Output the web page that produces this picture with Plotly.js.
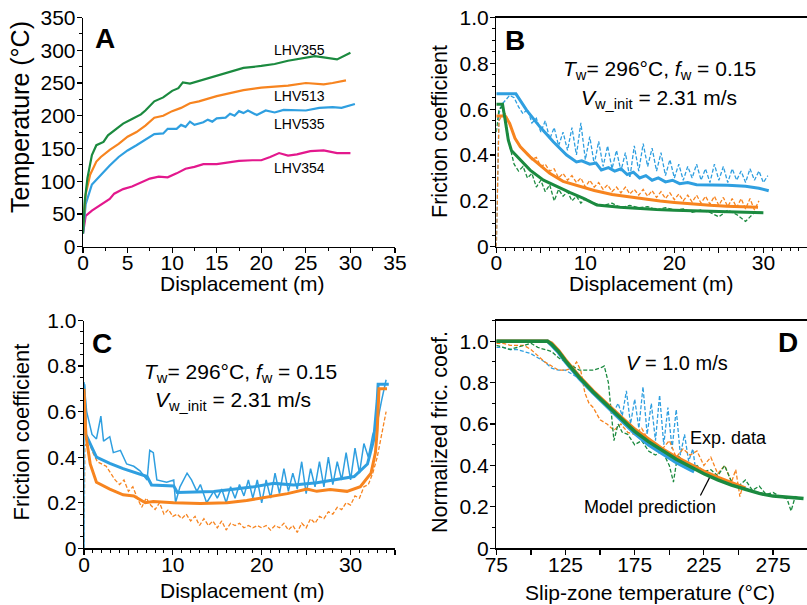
<!DOCTYPE html>
<html><head><meta charset="utf-8">
<script src="https://cdn.plot.ly/plotly-3.0.1.min.js"></script>
<style>html,body{margin:0;padding:0;background:#fff}#chart{width:807px;height:605px}</style>
</head><body><div id="chart"></div>
<script>
// ---------- Panel A: temperature vs displacement ----------
const aGreenX = [0,0.2,0.5,1,1.5,2,2.3,2.8,3.5,4.5,5.5,6.5,7,8,9,10,10.7,11.2,12,13,15,17,18,20,21.5,23,25,26,27,28.5,30];
const aGreenY = [20,70,105,140,155,158,160,170,178,188,195,202,208,222,228,238,242,251,249,253,262,269,273,276,279,284,289,291,289,286,296];
const aOrangeX = [0,0.3,0.8,1.5,2,3,4,5,6,7,8,9,10,11,12,13,15,17,18,20,22,23,25,27,28,29.5];
const aOrangeY = [30,80,110,130,137,148,157,168,175,185,197,200,207,212,219,222,230,236,239,243,245,246,250,248,250,254];
const aBlueX = [0,0.3,1,2,3,4,5,6,7,8,9,9.5,10.5,11,11.5,12,12.5,13.5,14,14.5,15,16,16.5,17,17.5,18,18.5,19.5,20.5,21.5,22.5,23.5,25,26.5,28,29,30.5];
const aBlueY = [20,65,95,110,124,137,147,155,164,172,173,180,180,186,183,191,186,190,194,191,196,197,203,200,207,204,208,201,208,205,209,209,208,212,213,212,218];
const aPinkX = [0,0.3,1,2,3,3.5,4.5,5.5,6.5,7.5,8.5,9.5,10.5,11.5,12.5,13.5,15,16,17.5,19,20,21,22,23,24,25.5,27,28.5,30];
const aPinkY = [20,47,55,64,73,81,88,92,98,104,107,106,112,119,122,126,126,128,131,132,132,137,143,139,141,146,147,143,143];
const aLabels = ["LHV355","LHV513","LHV535","LHV354"];
const aLabelY = [300,230,187,120];

// ---------- Panel B: friction vs displacement ----------
const bBlueModelX = [0,2.2,3.4,4.9,6.4,7.9,9.0,9.6,10.5,11.2,11.8,12.6,13.3,14,14.7,15.4,16.1,16.8,17.5,18.2,19,19.8,20.6,21.5,22.5,24,26,28,29.5,30.6];
const bBlueModelY = [0.667,0.667,0.596,0.523,0.458,0.40,0.37,0.375,0.36,0.365,0.335,0.345,0.33,0.34,0.315,0.325,0.30,0.31,0.29,0.30,0.283,0.29,0.275,0.28,0.27,0.27,0.268,0.264,0.255,0.244];
const bOrangeModelX = [0,1.0,1.5,2.1,2.7,3.8,4.9,6.0,7.5,9.4,11,13,14.7,16.5,18.4,20,22.1,24,25.9,28,29.4];
const bOrangeModelY = [0.57,0.57,0.538,0.473,0.436,0.392,0.356,0.32,0.285,0.262,0.245,0.228,0.218,0.207,0.199,0.193,0.186,0.181,0.177,0.174,0.172];
const bGreenModelX = [0,0.7,1.0,1.35,1.7,2.7,3.8,5.3,6.8,8.3,9.8,11.3,13.9,16,18,20,22.1,25,28,30];
const bGreenModelY = [0.622,0.622,0.552,0.465,0.42,0.378,0.334,0.29,0.262,0.236,0.211,0.182,0.172,0.166,0.162,0.159,0.156,0.152,0.149,0.148];
const bBlueDataX = [0,0.3,0.6,1,1.5,2,2.5,3,3.5,4,4.5,5,5.5,6,6.5,7,7.5,8,8.5,9,9.5,10,10.5,11,11.5,12,12.5,13,13.5,14,14.5,15,15.5,16,16.5,17,17.5,18,18.5,19,19.5,20,20.5,21,21.5,22,22.5,23,23.5,24,24.5,25,25.5,26,26.5,27,27.5,28,28.5,29,29.5,30,30.5];
const bBlueDataY = [0.0,0.58,0.62,0.64,0.66,0.65,0.61,0.58,0.6,0.54,0.56,0.5,0.55,0.47,0.52,0.44,0.5,0.42,0.52,0.4,0.54,0.38,0.48,0.36,0.46,0.35,0.44,0.34,0.42,0.33,0.41,0.3,0.44,0.33,0.45,0.35,0.43,0.33,0.41,0.31,0.38,0.3,0.36,0.29,0.35,0.3,0.36,0.29,0.34,0.28,0.36,0.29,0.35,0.28,0.34,0.29,0.33,0.28,0.34,0.29,0.33,0.28,0.31];
const bOrangeDataX = [0,0.3,0.6,1,1.5,2,2.5,3,3.5,4,4.5,5,5.5,6,6.5,7,7.5,8,8.5,9,9.5,10,10.5,11,11.5,12,12.5,13,13.5,14,14.5,15,15.5,16,16.5,17,17.5,18,18.5,19,19.5,20,20.5,21,21.5,22,22.5,23,23.5,24,24.5,25,25.5,26,26.5,27,27.5,28,28.5,29,29.5];
const bOrangeDataY = [0.0,0.55,0.57,0.58,0.54,0.48,0.45,0.42,0.4,0.38,0.39,0.35,0.36,0.33,0.34,0.3,0.32,0.29,0.31,0.28,0.3,0.26,0.29,0.26,0.28,0.25,0.27,0.24,0.26,0.235,0.26,0.23,0.25,0.225,0.25,0.22,0.245,0.215,0.24,0.21,0.235,0.205,0.23,0.2,0.225,0.195,0.225,0.19,0.22,0.185,0.22,0.18,0.215,0.175,0.21,0.17,0.21,0.165,0.21,0.16,0.2];
const bGreenDataX = [0,0.3,0.6,1,1.5,2,2.5,3,3.5,4,4.5,5,5.5,6,6.5,7,7.5,8,8.5,9,9.5,10,11,12,13,14,15,16,17,18,19,20,21,22,23,24,25,26,27,28,28.5,29,30];
const bGreenDataY = [0.5,0.6,0.61,0.57,0.44,0.36,0.33,0.35,0.3,0.32,0.26,0.29,0.24,0.27,0.2,0.25,0.22,0.24,0.2,0.22,0.19,0.21,0.19,0.18,0.19,0.17,0.18,0.17,0.175,0.16,0.17,0.16,0.165,0.15,0.16,0.15,0.13,0.16,0.14,0.11,0.13,0.15,0.15];

// ---------- Panel C: friction vs displacement ----------
const cBlueModelX = [0,0.2,1.4,2.9,4.4,5.9,7.1,7.6,10.1,10.5,14.6,16.8,19.1,21.4,23.6,26.2,28.1,30.4,31.9,32.6,33,33.1,34.3];
const cBlueModelY = [0.72,0.5,0.40,0.373,0.35,0.33,0.315,0.278,0.274,0.245,0.249,0.259,0.27,0.285,0.278,0.288,0.3,0.315,0.37,0.476,0.65,0.72,0.72];
const cBlueDataX = [0,0,0.3,0.9,1.4,1.9,2.2,2.9,3.3,4.1,4.8,5.6,6.3,7.1,7.4,7.8,8.2,9.3,10.1,10.3,10.8,11.6,12.1,12.7,13.1,13.8,14.6,15,15.5,16,16.5,17,17.5,18,18.5,19,19.5,20,20.5,21,21.5,22,22.5,23,23.5,24,24.5,25,25.5,26,26.5,27,27.5,28,28.5,29,29.5,30,30.5,31,31.5,32,32.5,33,33.5,34];
const cBlueDataY = [0,0.73,0.6,0.5,0.48,0.58,0.47,0.49,0.42,0.43,0.37,0.36,0.34,0.3,0.43,0.42,0.3,0.29,0.3,0.2,0.27,0.33,0.3,0.25,0.28,0.2,0.25,0.22,0.26,0.2,0.27,0.22,0.28,0.23,0.3,0.22,0.3,0.2,0.3,0.22,0.33,0.24,0.35,0.25,0.33,0.26,0.38,0.24,0.35,0.27,0.38,0.27,0.4,0.28,0.38,0.3,0.42,0.3,0.44,0.33,0.46,0.4,0.5,0.55,0.65,0.74];
const cOrangeModelX = [0,0.2,0.7,1.4,2.9,4.4,5.6,6.3,6.9,7.8,10.1,13.1,16.1,18.3,20.6,22.9,25.1,26.2,27.7,29.6,31.1,32.3,32.8,33,33.2,34.1];
const cOrangeModelY = [0.7,0.5,0.37,0.29,0.26,0.235,0.23,0.215,0.2,0.205,0.2,0.197,0.2,0.21,0.225,0.24,0.26,0.25,0.258,0.25,0.27,0.33,0.42,0.52,0.7,0.7];
const cOrangeDataX = [0,0.1,0.5,1,1.5,2,2.5,3,3.5,4,4.5,5,5.5,6,6.5,7,7.5,8,8.5,9,9.5,10,10.5,11,11.5,12,12.5,13,13.5,14,14.5,15,15.5,16,16.5,17,17.5,18,18.5,19,19.5,20,20.5,21,21.5,22,22.5,23,23.5,24,24.5,25,25.5,26,26.5,27,27.5,28,28.5,29,29.5,30,30.5,31,31.5,32,32.5,33,33.5,34];
const cOrangeDataY = [0,0.45,0.47,0.42,0.38,0.37,0.36,0.33,0.3,0.28,0.3,0.25,0.27,0.22,0.18,0.22,0.19,0.17,0.2,0.15,0.17,0.14,0.15,0.13,0.15,0.12,0.14,0.1,0.13,0.1,0.12,0.09,0.12,0.08,0.11,0.1,0.11,0.09,0.1,0.09,0.1,0.09,0.1,0.08,0.1,0.09,0.11,0.08,0.1,0.07,0.11,0.09,0.13,0.11,0.14,0.13,0.16,0.15,0.18,0.17,0.2,0.19,0.23,0.22,0.27,0.28,0.33,0.4,0.5,0.6];

// ---------- Panel D: normalized friction vs temperature ----------
const dBlueModelX = [75,90,105,112,115,120,125,135,145,155,165,175,185,195,205,215,218];
const dBlueModelY = [1,1,1,1,0.98,0.945,0.9,0.82,0.75,0.685,0.618,0.555,0.5,0.455,0.415,0.38,0.37];
const dOrangeModelX = [75,90,105,112,115,120,125,135,145,155,165,175,185,195,205,215,225,235,245,255];
const dOrangeModelY = [1,1,1,1,0.99,0.955,0.91,0.83,0.76,0.695,0.635,0.575,0.525,0.48,0.44,0.405,0.372,0.342,0.315,0.29];
const dGreenModelX = [75,90,105,112,115,120,125,135,145,155,165,175,185,195,205,215,225,235,245,255,265,275,285,297];
const dGreenModelY = [1,1,1,1,0.985,0.95,0.905,0.825,0.755,0.69,0.625,0.565,0.515,0.47,0.43,0.395,0.36,0.33,0.305,0.285,0.265,0.252,0.245,0.24];
const dBlueDataX = [75,80,85,90,95,100,105,110,115,120,125,130,135,140,145,150,155,160,163,166,169,172,175,178,181,184,187,190,193,196,199,202,205,208,211,214,217,219];
const dBlueDataY = [0.97,0.97,0.96,0.96,0.95,0.94,0.92,0.9,0.87,0.86,0.86,0.84,0.82,0.78,0.75,0.72,0.7,0.66,0.7,0.64,0.76,0.6,0.72,0.58,0.78,0.55,0.7,0.52,0.74,0.5,0.68,0.48,0.67,0.45,0.55,0.42,0.48,0.38];
const dOrangeDataX = [75,80,85,90,95,100,105,110,115,120,125,130,133,136,139,142,145,150,155,160,165,170,175,180,185,190,195,200,205,210,215,220,225,230,235,240,245,248,251,253];
const dOrangeDataY = [0.99,0.99,0.98,0.98,0.98,0.96,0.93,0.9,0.88,0.86,0.86,0.87,0.9,0.86,0.75,0.7,0.68,0.62,0.6,0.57,0.6,0.56,0.55,0.58,0.52,0.5,0.48,0.52,0.44,0.48,0.45,0.47,0.4,0.44,0.36,0.4,0.32,0.38,0.25,0.3];
const dGreenDataX = [75,80,85,90,95,100,105,110,115,120,125,130,135,140,145,150,153,156,160,163,166,170,175,180,185,190,195,200,203,206,210,215,220,225,230,235,240,245,250,255,260,265,270,275,280,285,288,291,295];
const dGreenDataY = [0.98,0.97,0.96,0.97,0.98,0.99,0.97,0.96,0.95,0.92,0.9,0.88,0.86,0.86,0.86,0.87,0.88,0.8,0.52,0.6,0.56,0.55,0.5,0.52,0.47,0.45,0.47,0.4,0.32,0.45,0.42,0.38,0.4,0.37,0.38,0.35,0.4,0.32,0.3,0.33,0.28,0.3,0.26,0.27,0.25,0.24,0.18,0.25,0.24];

// axis titles
const xTitles = ['Displacement (m)', 'Displacement (m)', 'Displacement (m)', 'Slip-zone temperature (°C)'];
const yTitles = ['Temperature (°C)', 'Friction coefficient', 'Friction coefficient', 'Normalized fric. coef.'];

const GREEN = '#1b8a3f', ORANGE = '#f7841f', BLUE = '#2f9fe0', PINK = '#e3188d';
const DASH = '4px,2px';
const FONT = 'Arial, "Liberation Sans", sans-serif';

function line(x, y, color, width, xa, ya, dash) {
  return {x: x, y: y, type: 'scatter', mode: 'lines', xaxis: xa, yaxis: ya,
    line: {color: color, width: width, dash: dash || 'solid'}, hoverinfo: 'skip'};
}

const traces = [
  line(aPinkX, aPinkY, PINK, 2.2, 'x', 'y'),
  line(aBlueX, aBlueY, BLUE, 2.2, 'x', 'y'),
  line(aOrangeX, aOrangeY, ORANGE, 2.2, 'x', 'y'),
  line(aGreenX, aGreenY, GREEN, 2.2, 'x', 'y'),

  line(bBlueDataX, bBlueDataY, BLUE, 1.3, 'x2', 'y2', DASH),
  line(bOrangeDataX, bOrangeDataY, ORANGE, 1.3, 'x2', 'y2', DASH),
  line(bGreenDataX, bGreenDataY, GREEN, 1.3, 'x2', 'y2', DASH),
  line(bBlueModelX, bBlueModelY, BLUE, 3, 'x2', 'y2'),
  line(bOrangeModelX, bOrangeModelY, ORANGE, 3, 'x2', 'y2'),
  line(bGreenModelX, bGreenModelY, GREEN, 3, 'x2', 'y2'),

  line(cOrangeDataX, cOrangeDataY, ORANGE, 1.3, 'x3', 'y3', DASH),
  line(cBlueDataX, cBlueDataY, BLUE, 1.5, 'x3', 'y3'),
  line(cBlueModelX, cBlueModelY, BLUE, 3, 'x3', 'y3'),
  line(cOrangeModelX, cOrangeModelY, ORANGE, 3, 'x3', 'y3'),

  line(dBlueDataX, dBlueDataY, BLUE, 1.3, 'x4', 'y4', DASH),
  line(dOrangeDataX, dOrangeDataY, ORANGE, 1.3, 'x4', 'y4', DASH),
  line(dGreenDataX, dGreenDataY, GREEN, 1.3, 'x4', 'y4', DASH),
  line(dBlueModelX, dBlueModelY, BLUE, 3.5, 'x4', 'y4'),
  line(dOrangeModelX, dOrangeModelY, ORANGE, 3.5, 'x4', 'y4'),
  line(dGreenModelX, dGreenModelY, GREEN, 3.5, 'x4', 'y4')
];

const MINOR = {ticks: 'outside', ticklen: 3, tickwidth: 1, tickcolor: '#000', showgrid: false};
const XSO = -8, YSO = -3;
function axis(extra) {
  return Object.assign({
    showline: true, linecolor: '#000', linewidth: 1.3, mirror: false,
    ticks: 'outside', ticklen: 5, tickwidth: 1.2, tickcolor: '#000',
    showgrid: false, zeroline: false, fixedrange: true,
    tickfont: {family: FONT, size: 21, color: '#000'}
  }, extra);
}
const fricVals = [0, 0.2, 0.4, 0.6, 0.8, 1.0];
const fricText = ['0', '0.2', '0.4', '0.6', '0.8', '1.0'];
const dispVals = [0, 5, 10, 15, 20, 25, 30, 35];
const dispText = ['0', '', '10', '', '20', '', '30', ''];
const tempVals = [75, 100, 125, 150, 175, 200, 225, 250, 275, 300];
const tempText = ['75', '', '125', '', '175', '', '225', '', '275', ''];

const yTop = [1 - 246.7 / 605, 1 - 17.5 / 605];
const yBot = [1 - 548.3 / 605, 1 - 320.5 / 605];
const xLeft = [83 / 807, 395 / 807];
const xRight = [496.3 / 807, 1];

const layout = {
  width: 807, height: 605, margin: {l: 0, r: 0, t: 0, b: 0},
  paper_bgcolor: '#fff', plot_bgcolor: '#fff', showlegend: false,
  font: {family: FONT, color: '#000'},
  xaxis: axis({domain: xLeft, anchor: 'y', range: [0, 35], dtick: 5, ticklabelstandoff: XSO,
    minor: Object.assign({dtick: 2.5}, MINOR)}),
  yaxis: axis({domain: yTop, anchor: 'x', range: [0, 350], dtick: 50, ticklabelstandoff: YSO,
    minor: Object.assign({dtick: 25}, MINOR)}),
  xaxis2: axis({domain: xRight, anchor: 'y2', range: [0, 34.9], tickmode: 'array', tickvals: dispVals, ticktext: dispText, mirror: true,
    ticklabelstandoff: XSO, minor: Object.assign({dtick: 1, tick0: 0}, MINOR)}),
  yaxis2: axis({domain: yTop, anchor: 'x2', range: [0, 1], tickmode: 'array', tickvals: fricVals, ticktext: fricText,
    ticklabelstandoff: YSO, minor: Object.assign({dtick: 0.05, tick0: 0}, MINOR)}),
  xaxis3: axis({domain: [84 / 807, 395 / 807], anchor: 'y3', range: [0, 35], tickmode: 'array', tickvals: dispVals, ticktext: dispText,
    ticklabelstandoff: XSO, minor: Object.assign({dtick: 1, tick0: 0}, MINOR)}),
  yaxis3: axis({domain: yBot, anchor: 'x3', range: [0, 1], tickmode: 'array', tickvals: fricVals, ticktext: fricText,
    ticklabelstandoff: YSO, minor: Object.assign({dtick: 0.05, tick0: 0}, MINOR)}),
  xaxis4: axis({domain: xRight, anchor: 'y4', range: [75, 299.5], tickmode: 'array', tickvals: tempVals, ticktext: tempText, mirror: true,
    ticklabelstandoff: XSO}),
  yaxis4: axis({domain: yBot, anchor: 'x4', range: [0, 1.1], tickmode: 'array', tickvals: fricVals, ticktext: fricText,
    ticklabelstandoff: YSO, minor: Object.assign({dtick: 0.1, tick0: 0}, MINOR)}),
  annotations: [],
  shapes: [
    {type: 'line', xref: 'x4', yref: 'y4', x0: 229, y0: 0.34, x1: 222.5, y1: 0.255, line: {color: '#000', width: 1.2}}
  ]
};

const ann = layout.annotations;
function txt(text, xr, yr, x, y, size, extra) {
  ann.push(Object.assign({text: text, xref: xr, yref: yr, x: x, y: y, showarrow: false,
    xanchor: 'center', yanchor: 'middle', font: {family: FONT, size: size, color: '#000'}}, extra || {}));
}
function ptxt(text, px, py, size, angle) {
  txt(text, 'paper', 'paper', px / 807, 1 - py / 605, size, {textangle: angle || 0});
}
// axis titles (pixel centres)
ptxt(xTitles[0], 242, 283, 21);
ptxt(xTitles[1], 651, 283, 21);
ptxt(xTitles[2], 242, 590, 21);
ptxt(xTitles[3], 650, 592, 21);
ptxt(yTitles[0], 20, 117, 25, -90);
ptxt(yTitles[1], 440, 132, 21.5, -90);
ptxt(yTitles[2], 20.5, 432, 22, -90);
ptxt(yTitles[3], 440, 432, 21.5, -90);
// Panel letters
txt('<b>A</b>', 'x', 'y', 2.47, 318, 28);
txt('<b>B</b>', 'x2', 'y2', 2.05, 0.90, 28);
txt('<b>C</b>', 'x3', 'y3', 1.97, 0.90, 28);
txt('<b>D</b>', 'x4', 'y4', 285.6, 0.994, 28);
// Panel A curve labels
aLabels.forEach(function (lab, i) { txt(lab, 'x', 'y', 24.3, aLabelY[i], 14); });
// Panel B/C parameter text
txt('<i>T</i><sub>w</sub>= 296°C, <i>f</i><sub>w</sub> = 0.15', 'x2', 'y2', 18.3, 0.77, 21);
txt('<i>V</i><sub>w_init</sub> = 2.31 m/s', 'x2', 'y2', 18.3, 0.645, 21);
txt('<i>T</i><sub>w</sub>= 296°C, <i>f</i><sub>w</sub> = 0.15', 'x3', 'y3', 17.6, 0.77, 21);
txt('<i>V</i><sub>w_init</sub> = 2.31 m/s', 'x3', 'y3', 16.8, 0.645, 21);
// Panel D text
txt('<i>V</i> = 1.0 m/s', 'x4', 'y4', 205.6, 0.895, 20);
txt('Exp. data', 'x4', 'y4', 243, 0.533, 18);
txt('Model prediction', 'x4', 'y4', 186, 0.2, 18);

Plotly.newPlot('chart', traces, layout, {staticPlot: true, displayModeBar: false});
</script></body></html>
